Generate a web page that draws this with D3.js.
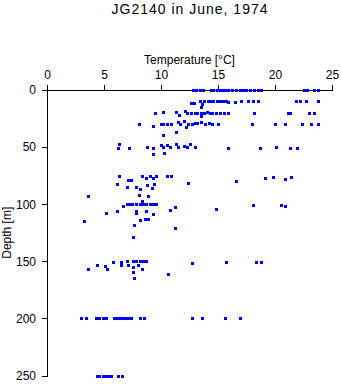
<!DOCTYPE html>
<html>
<head>
<meta charset="utf-8">
<script src="https://cdn.jsdelivr.net/npm/d3@7"></script>
<style>
  body { margin: 0; background: #fff; }
  svg { display: block; }
  text { font-family: "Liberation Sans", Arial, sans-serif; fill: #000; }
</style>
</head>
<body>
<div id="chart"></div>
<script>
const title = "JG2140 in June, 1974";
const xLabel = "Temperature [\u00B0C]";
const yLabel = "Depth [m]";
const xTicks = [0, 5, 10, 15, 20, 25];
const yTicks = [0, 50, 100, 150, 200, 250];

// [temperature °C, depth m]
const obs0to15 = [
  [12.8,0],[13.1,0],[13.4,0],[13.7,0],[14.4,0],[14.6,0],[14.9,0],[15.1,0],[15.3,0],[15.5,0],
  [15.7,0],[15.9,0],[16.2,0],[16.6,0],[16.9,0],[17.2,0],[17.5,0],[17.8,0],[18.2,0],[18.5,0],
  [18.8,0],[22.5,0],[22.8,0],[23.4,0],[23.8,0],
  [12.6,11],[12.9,11],[13.4,10],[13.6,12],[13.5,14.5],[13.8,10],[14.1,10],[14.4,9.5],[14.6,10],
  [14.9,10],[15.2,9.5],[15.4,10],[15.7,10],[15.9,10.5],[16.5,10.5],[17.0,10],[17.6,10],[18.1,10],
  [18.5,10],[21.8,10],[22.2,10],[22.7,10],[23.75,10]
];
const obs20to40 = [
  [9.45,20.5],[10.15,19.5],[11.3,19],[11.55,22],[12.1,18.5],[12.3,20],[12.6,20.5],[13.0,20],
  [13.2,20],[13.5,20],[13.75,20],[14.0,19.5],[14.3,20],[14.5,20],[14.8,20],[15.15,20],[15.5,20],
  [15.85,20],[13.5,23],[18.2,20],[21.1,20],[21.3,20],[23.0,20],[23.4,20],
  [8.1,30],[9.3,31.5],[10.0,30],[10.2,30],[10.5,30],[10.9,30],[11.5,28],[11.7,30],[12.0,27.5],
  [12.2,32],[12.4,30],[12.7,30],[13.0,29],[13.2,29],[13.5,28],[13.9,30],[14.2,29],[14.5,30],
  [15.0,30],[18.0,30],[20.0,30],[20.9,30],[22.4,30],[23.2,30],[23.75,30],
  [11.3,36.5],[10.15,39.5]
];
const obs50to95 = [
  [6.3,47.5],[6.2,50.5],[7.2,50.5],[8.75,50],[9.3,50.5],[10.0,48.5],[10.2,50],[10.5,48],[10.8,50],
  [11.3,47.5],[11.5,50],[12.0,49],[12.25,50],[12.5,47.5],[13.0,49.5],[15.9,50.5],[18.65,50.5],
  [20.1,49.5],[21.3,50.5],[21.9,50.5],[9.3,56],[10.3,55],
  [6.3,75.5],[8.3,75.5],[8.65,77],[9.0,75.5],[9.3,77],[9.55,75.5],[10.5,75.5],[10.9,75.5],
  [7.1,78.5],[7.4,78.5],[16.6,80],[19.1,77],[19.85,76],[20.85,78],[21.4,76],[12.4,81],
  [6.15,82],[7.05,85],[7.8,85],[8.15,87],[8.75,83],[9.2,86],[9.35,82.5],
  [3.6,93],[8.1,92],[8.9,93],[8.3,97]
];
const obs100to130 = [
  [7.0,100],[7.2,100],[7.45,100],[7.8,100],[8.2,100],[8.4,100],[8.7,100],[9.0,100],[9.3,100],[9.6,100],
  [6.7,102],[6.1,106],[5.2,108],[3.25,114.5],[7.85,106],[7.85,107.5],[8.65,106],[9.3,108.5],
  [8.2,114],[8.6,113],[8.9,113],[7.6,118],[7.5,129],[10.8,105],[11.2,102.5],[11.2,121],
  [14.85,104.5],[18.1,101],[20.5,101],[20.85,102]
];
const obs150 = [
  [3.6,157],[4.4,153],[5.1,154],[5.3,157],[5.8,150.5],[6.45,150.5],[6.45,153.5],[7.05,150],
  [7.1,153.5],[7.5,150],[7.85,150],[8.15,150],[8.4,150],[8.7,150],[7.55,155],[7.95,153.5],
  [7.55,159],[8.3,157],[7.6,165],[10.6,161],[12.7,151.5],[15.7,151],[18.3,151],[18.75,151]
];
const obs200 = [
  [2.95,200],[3.4,200],[4.3,200],[4.6,200],[4.9,200],[5.15,200],[5.9,200],[6.1,200],[6.3,200],
  [6.5,200],[6.75,200],[6.95,200],[7.2,200],[7.4,200],[8.2,200],[8.55,200],[12.7,200],[13.6,200],
  [15.65,200],[16.9,200]
];
const obs250 = [
  [4.4,250],[4.6,250],[4.9,250],[5.15,250],[5.35,250],[5.6,250],[6.2,250],[6.55,250]
];

const W = 341, H = 384;
const svg = d3.select("#chart").append("svg")
  .attr("width", W).attr("height", H);

const x = d3.scaleLinear().domain([0, 25]).range([47, 332]);
const y = d3.scaleLinear().domain([0, 250]).range([90, 375.5]);

svg.append("text")
  .attr("x", 190).attr("y", 14)
  .attr("text-anchor", "middle")
  .style("font-size", "14px")
  .style("letter-spacing", "1px")
  .text(title);

const xAxis = svg.append("g")
  .attr("transform", `translate(0,${y(0)})`)
  .call(d3.axisTop(x).tickValues(xTicks).tickSize(5).tickSizeOuter(5).tickPadding(6));

const yAxis = svg.append("g")
  .attr("transform", `translate(${x(0)},0)`)
  .call(d3.axisLeft(y).tickValues(yTicks).tickSize(5).tickSizeOuter(5).tickPadding(6));

svg.selectAll(".tick text")
  .style("font-size", "12px")
  .style("font-family", "'Liberation Sans', Arial, sans-serif");
svg.selectAll(".domain, .tick line").attr("stroke", "#000").attr("shape-rendering", "crispEdges");

svg.append("text")
  .attr("x", (x(0) + x(25)) / 2).attr("y", 64)
  .attr("text-anchor", "middle")
  .style("font-size", "12px")
  .text(xLabel);

svg.append("text")
  .attr("transform", `translate(11,${(y(0) + y(250)) / 2}) rotate(-90)`)
  .attr("text-anchor", "middle")
  .style("font-size", "12px")
  .text(yLabel);

const all = [].concat(obs0to15, obs20to40, obs50to95, obs100to130, obs150, obs200, obs250);
svg.append("g")
  .selectAll("rect")
  .data(all)
  .join("rect")
  .attr("x", d => Math.round(x(d[0])) - 1)
  .attr("y", d => Math.round(y(d[1])) - 1)
  .attr("width", 3)
  .attr("height", 3)
  .attr("fill", "#0000ff")
  .attr("shape-rendering", "crispEdges");
</script>
</body>
</html>
